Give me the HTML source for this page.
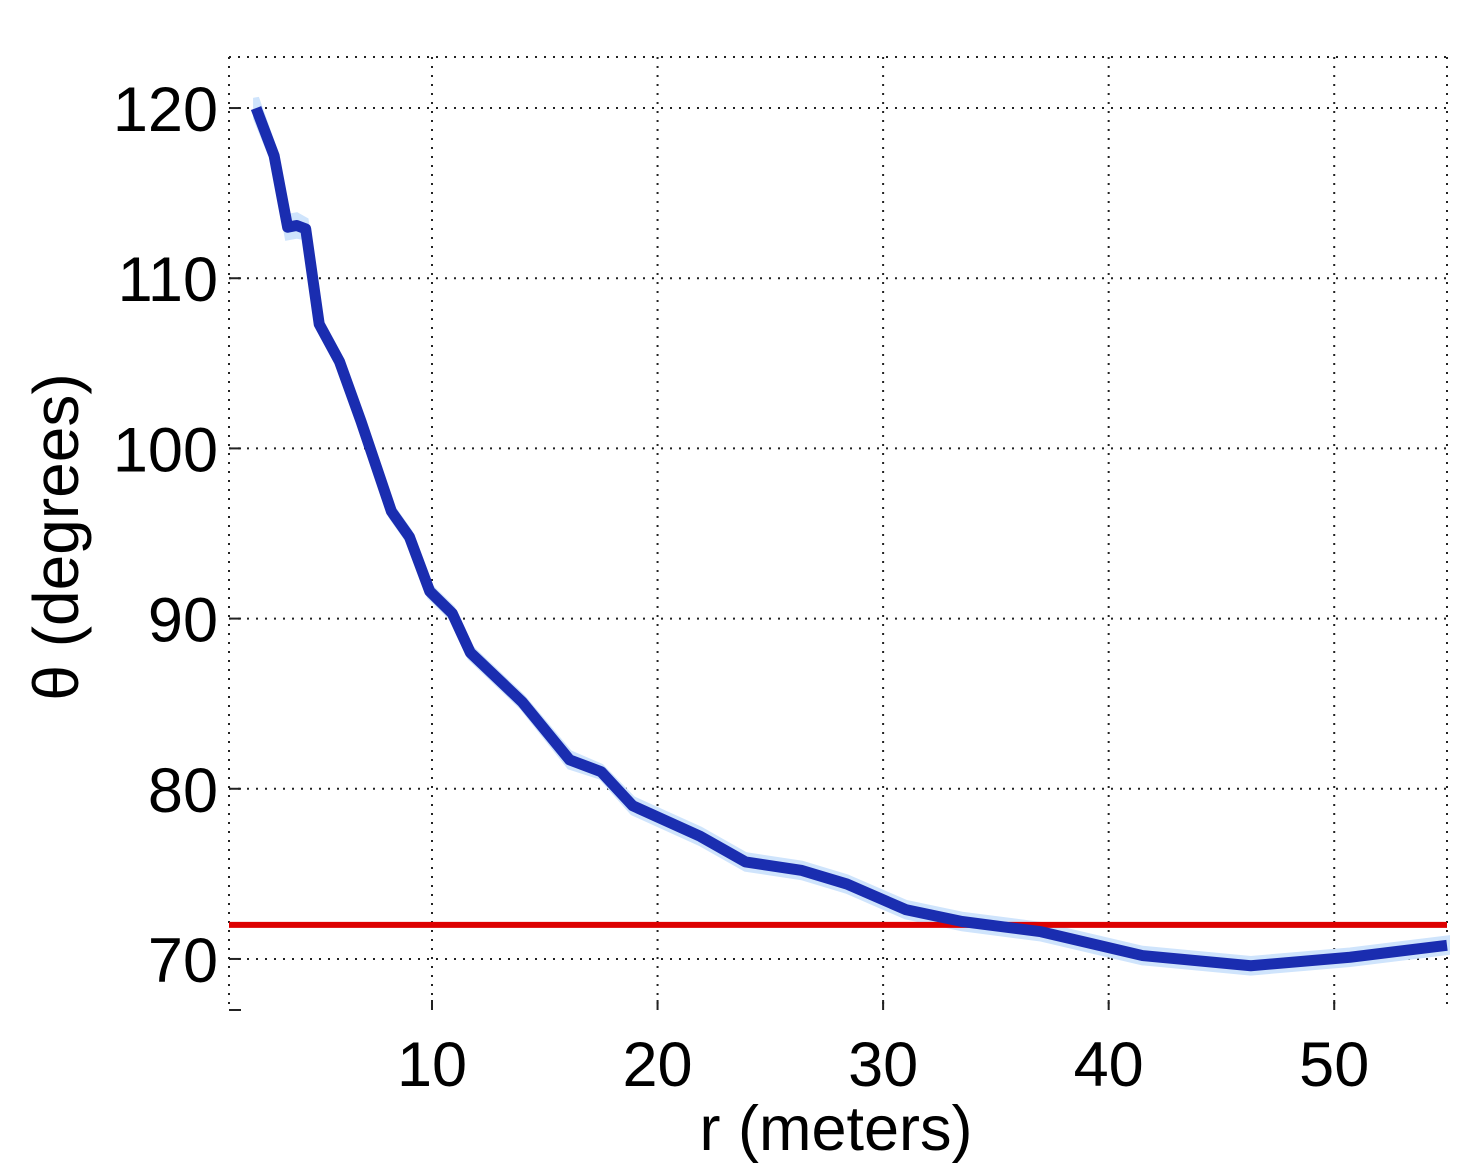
<!DOCTYPE html>
<html><head><meta charset="utf-8"><style>
html,body{margin:0;padding:0;background:#fff;}
svg{display:block;}
text{font-family:"Liberation Sans",sans-serif;fill:#000;}
</style></head><body>
<svg id="chart" width="1461" height="1167">
<g id="grid"></g>
<g id="band"></g>
<g id="lines"></g>
<g id="ticks"></g>
<text x="836" y="1150" font-size="63" text-anchor="middle">r (meters)</text>
<text transform="translate(78,537) rotate(-90)" font-size="64" text-anchor="middle">θ (degrees)</text>
</svg>
<script>
const rVals=[2.2,3.0,3.6,4.0,4.4,5.0,5.9,6.85,8.2,9.0,9.9,10.9,11.7,14,16.1,17.5,18.9,21.9,23.9,26.4,28.4,31.0,33.5,37,41.5,46.3,50.7,55];
const thetaVals=[120,117.2,113,113.1,112.9,107.3,105.1,101.6,96.3,94.8,91.6,90.3,88,85.1,81.7,81,79,77.2,75.7,75.2,74.4,72.9,72.2,71.6,70.2,69.6,70.1,70.8];
const bandWidth=[0.6,0.4,0.6,0.6,0.5,0.3,0.3,0.3,0.3,0.3,0.3,0.3,0.3,0.3,0.4,0.3,0.4,0.4,0.4,0.4,0.4,0.4,0.4,0.4,0.4,0.4,0.4,0.4];
const thresholdValue=72;
const xTicks=[10,20,30,40,50];
const yTicks=[70,80,90,100,110,120];
const xMin=1,xMax=55,yMin=67,yMax=123;
const L=229,R=1447,T=57,B=1010;
const sx=v=>L+(v-xMin)/(xMax-xMin)*(R-L);
const sy=v=>B-(v-yMin)/(yMax-yMin)*(B-T);
const NS="http://www.w3.org/2000/svg";
function mk(tag,attrs,parent){const e=document.createElementNS(NS,tag);for(const k in attrs)e.setAttribute(k,attrs[k]);parent.appendChild(e);return e;}
const grid=document.getElementById('grid'),ticks=document.getElementById('ticks');
const dash={stroke:'#222','stroke-width':2,'stroke-dasharray':'2 7',fill:'none'};
let e;
e=mk('line',Object.assign({x1:L,y1:T,x2:R,y2:T},dash),grid);


e=mk('line',Object.assign({x1:L,y1:T,x2:L,y2:B},dash),grid);


e=mk('line',Object.assign({x1:R,y1:T,x2:R,y2:B},dash),grid);


xTicks.forEach(v=>{
 const x=sx(v);
 e=mk('line',Object.assign({x1:x,y1:T,x2:x,y2:B},dash),grid);
 
 
 mk('line',{x1:x,y1:B,x2:x,y2:B-10,stroke:'#222','stroke-width':2},grid);
 e=mk('text',{x:x,y:1086,'font-size':63,'text-anchor':'middle'},ticks);
 e.textContent=v;
 
 
});
yTicks.forEach(v=>{
 const y=sy(v);
 e=mk('line',Object.assign({x1:L,y1:y,x2:R,y2:y},dash),grid);
 
 
 mk('line',{x1:L,y1:y,x2:L+12,y2:y,stroke:'#222','stroke-width':2},grid);
 e=mk('text',{x:218,y:y+23,'font-size':63,'text-anchor':'end'},ticks);
 e.textContent=v;
 
 
});
mk('line',{x1:L,y1:B,x2:L+12,y2:B,stroke:'#222','stroke-width':2},grid);
let up=[],dn=[];
rVals.forEach((r,i)=>{up.push(sx(r)+','+sy(thetaVals[i]+bandWidth[i]));dn.unshift(sx(r)+','+sy(thetaVals[i]-bandWidth[i]));});
e=mk('polygon',{points:up.concat(dn).join(' '),fill:'#cfe4fc',stroke:'#cfe4fc','stroke-width':6},document.getElementById('band'));


const lines=document.getElementById('lines');
e=mk('line',{x1:L,y1:sy(thresholdValue),x2:R,y2:sy(thresholdValue),stroke:'#dd0000','stroke-width':6},lines);


e=mk('polyline',{points:rVals.map((r,i)=>sx(r)+','+sy(thetaVals[i])).join(' '),fill:'none',stroke:'#1a2db0','stroke-width':11,'stroke-linejoin':'round'},lines);


</script>
</body></html>
